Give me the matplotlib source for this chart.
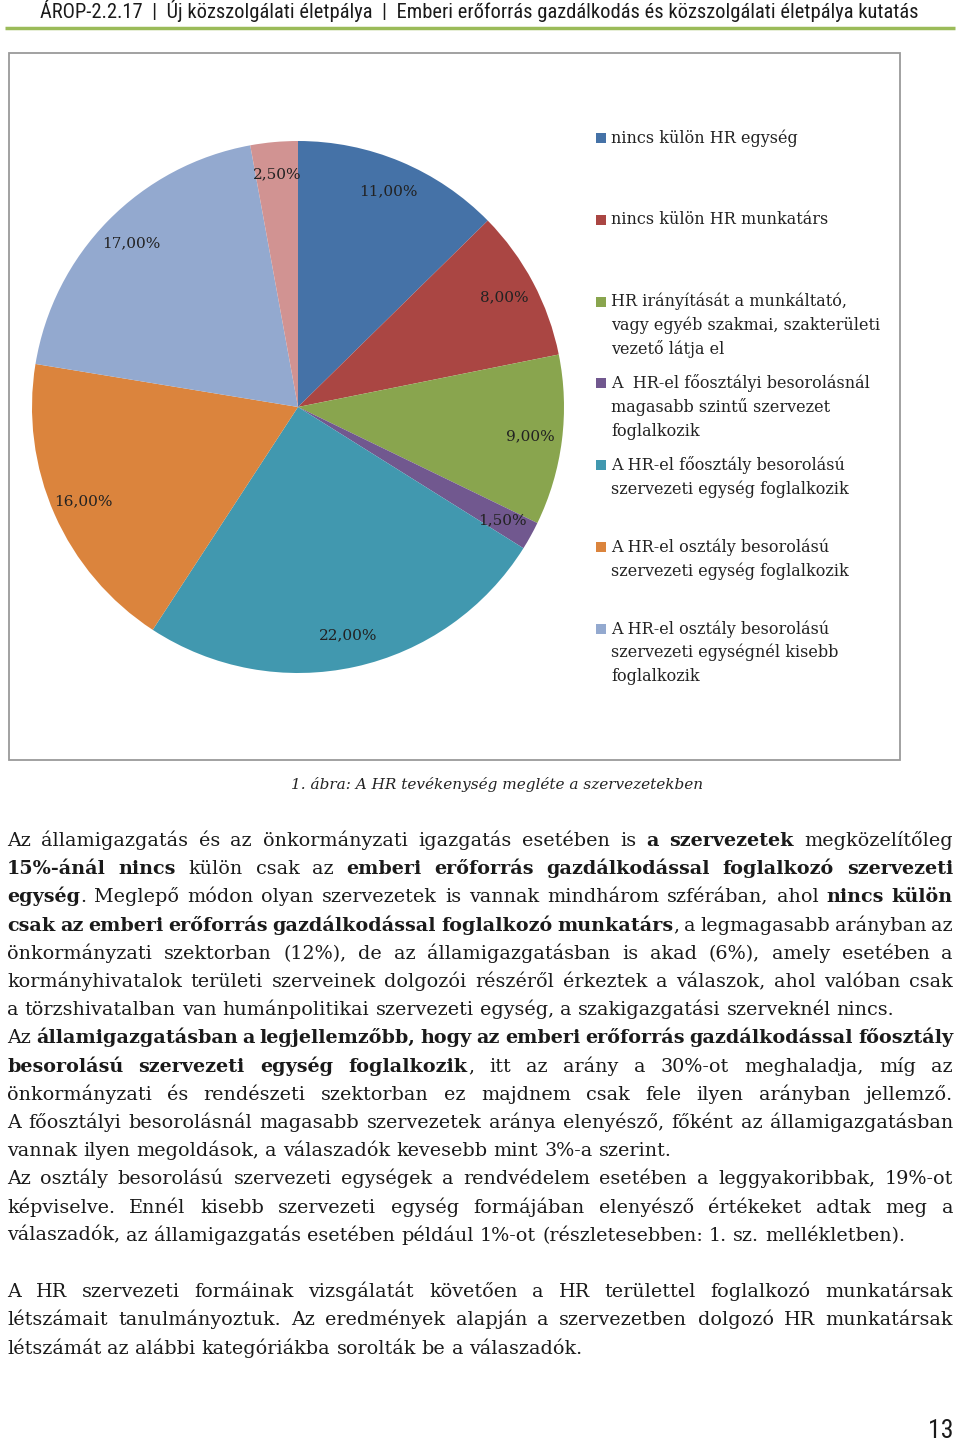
import numpy as np
import matplotlib
matplotlib.use("Agg")
import matplotlib.pyplot as plt
from matplotlib.patches import Rectangle

# adatok a diagramhoz
shares = [11.0, 8.0, 9.0, 1.5, 22.0, 16.0, 17.0, 2.5]
colors = ['#4572A7', '#AA4643', '#89A54E', '#71588F', '#4198AF', '#DB843D', '#93A9CF', '#D19392']
legend_labels = [
    "nincs külön HR egység",
    "nincs külön HR munkatárs",
    "HR irányítását a munkáltató,\nvagy egyéb szakmai, szakterületi\nvezető látja el",
    "A  HR-el főosztályi besorolásnál\nmagasabb szintű szervezet\nfoglalkozik",
    "A HR-el főosztály besorolású\nszervezeti egység foglalkozik",
    "A HR-el osztály besorolású\nszervezeti egység foglalkozik",
    "A HR-el osztály besorolású\nszervezeti egységnél kisebb\nfoglalkozik",
]

header = "ÁROP-2.2.17  |  Új közszolgálati életpálya  |  Emberi erőforrás gazdálkodás és közszolgálati életpálya kutatás"
caption = "1. ábra: A HR tevékenység megléte a szervezetekben"
page_no = "13"

# törzsszöveg: (sor, sorkizárt?) ; ** = félkövér
body = [
    ("Az államigazgatás és az önkormányzati igazgatás esetében is **a szervezetek** megközelítőleg", True),
    ("**15%-ánál nincs** külön csak az **emberi erőforrás gazdálkodással foglalkozó szervezeti**", True),
    ("**egység**. Meglepő módon olyan szervezetek is vannak mindhárom szférában, ahol **nincs külön**", True),
    ("**csak az emberi erőforrás gazdálkodással foglalkozó munkatárs**, a legmagasabb arányban az", True),
    ("önkormányzati szektorban (12%), de az államigazgatásban is akad (6%), amely esetében a", True),
    ("kormányhivatalok területi szerveinek dolgozói részéről érkeztek a válaszok, ahol valóban csak", True),
    ("a törzshivatalban van humánpolitikai szervezeti egység, a szakigazgatási szerveknél nincs.", False),
    ("Az **államigazgatásban a legjellemzőbb, hogy az emberi erőforrás gazdálkodással főosztály**", True),
    ("**besorolású szervezeti egység foglalkozik**, itt az arány a 30%-ot meghaladja, míg az", True),
    ("önkormányzati és rendészeti szektorban ez majdnem csak fele ilyen arányban jellemző.", True),
    ("A főosztályi besorolásnál magasabb szervezetek aránya elenyésző, főként az államigazgatásban", True),
    ("vannak ilyen megoldások, a válaszadók kevesebb mint 3%-a szerint.", False),
    ("Az osztály besorolású szervezeti egységek a rendvédelem esetében a leggyakoribbak, 19%-ot", True),
    ("képviselve. Ennél kisebb szervezeti egység formájában elenyésző értékeket adtak meg a", True),
    ("válaszadók, az államigazgatás esetében például 1%-ot (részletesebben: 1. sz. mellékletben).", False),
    ("", False),
    ("A HR szervezeti formáinak vizsgálatát követően a HR területtel foglalkozó munkatársak", True),
    ("létszámait tanulmányoztuk. Az eredmények alapján a szervezetben dolgozó HR munkatársak", True),
    ("létszámát az alábbi kategóriákba sorolták be a válaszadók.", False),
]

SERIF = 'DejaVu Serif'
SANS = ['Roboto Condensed', 'Liberation Sans Narrow', 'Roboto', 'DejaVu Sans']
W, H = 960, 1442

fig = plt.figure(figsize=(W / 100, H / 100), dpi=100)
page = fig.add_axes([0, 0, 1, 1])
page.set_xlim(0, W)
page.set_ylim(H, 0)
page.axis('off')
renderer = fig.canvas.get_renderer()


def text_width(s, fs, bold=False, family=SERIF, **kw):
    t = page.text(0, 0, s, family=family, fontsize=fs,
                  fontweight='bold' if bold else 'normal', **kw)
    wd = t.get_window_extent(renderer).width
    t.remove()
    return wd


# fejléc: a betűméretet a 40..920 px szélességhez igazítjuk
hdr_fs = 14 * 880 / text_width(header, 14, family=SANS, fontstretch='condensed')
page.text(40, 18, header, family=SANS, fontstretch='condensed', fontsize=hdr_fs,
          color='#1a1a1a', ha='left', va='baseline')
page.plot([5, 955], [28, 28], color='#9BBB59', lw=2.5, solid_capstyle='butt')

# diagram kerete
page.add_patch(Rectangle((9, 53), 891, 707, fill=False, ec='#9a9a9a', lw=1.3))

# kördiagram
cx, cy, r = 298, 407, 266
ax = fig.add_axes([(cx - r) / W, 1 - (cy + r) / H, 2 * r / W, 2 * r / H])
wedges, _ = ax.pie(shares, colors=colors, startangle=90, counterclock=False,
                   radius=1, wedgeprops=dict(linewidth=0))
ax.set_xlim(-1, 1)
ax.set_ylim(-1, 1)
for w, s in zip(wedges, shares):
    ang = np.deg2rad((w.theta1 + w.theta2) / 2)
    ax.text(0.88 * np.cos(ang), 0.88 * np.sin(ang), f"{s:.2f}".replace('.', ',') + '%',
            family=SERIF, fontsize=11, color='#222222', ha='center', va='center')

# jelmagyarázat
for i, lab in enumerate(legend_labels):
    y0 = 138 + i * 81.8
    page.add_patch(Rectangle((596, y0 - 5), 10, 10, color=colors[i], lw=0))
    for k, line in enumerate(lab.split('\n')):
        page.text(611, y0 + k * 23.8, line, family=SERIF, fontsize=11.5,
                  color='#222222', ha='left', va='center')

# ábracím
page.text(497, 785, caption, family=SERIF, style='italic', fontsize=11,
          color='#222222', ha='center', va='center')

# sorkizárt törzsszöveg
BODY_FS = 13.8
x_left, x_right = 7, 953

for i, (line, justify) in enumerate(body):
    if not line:
        continue
    y = 846 + i * 28.2
    bold = False
    words = []
    for word in line.split(' '):
        parts = []
        for j, piece in enumerate(word.split('**')):
            if j > 0:
                bold = not bold
            if piece:
                parts.append((piece, bold))
        words.append(parts)
    fs = BODY_FS
    while True:
        space_w = text_width("a a", fs) - text_width("aa", fs)
        pw = [[text_width(p, fs, b) for p, b in parts] for parts in words]
        widths = [sum(v) for v in pw]
        if justify and len(words) > 1:
            gap = (x_right - x_left - sum(widths)) / (len(words) - 1)
        else:
            gap = space_w
        if gap >= 0.7 * space_w or fs < 9:
            break
        fs -= 0.2
    x = x_left
    for parts, wl, wd in zip(words, pw, widths):
        xx = x
        for (p, b), pwid in zip(parts, wl):
            page.text(xx, y, p, family=SERIF, fontsize=fs, color='#1a1a1a',
                      fontweight='bold' if b else 'normal', ha='left', va='baseline')
            xx += pwid
        x += wd + gap

# oldalszám
page.text(953, 1438, page_no, family=SANS, fontstretch='condensed', fontsize=18.5,
          color='#1a1a1a', ha='right', va='baseline')

fig.savefig('out.png', dpi=100)
